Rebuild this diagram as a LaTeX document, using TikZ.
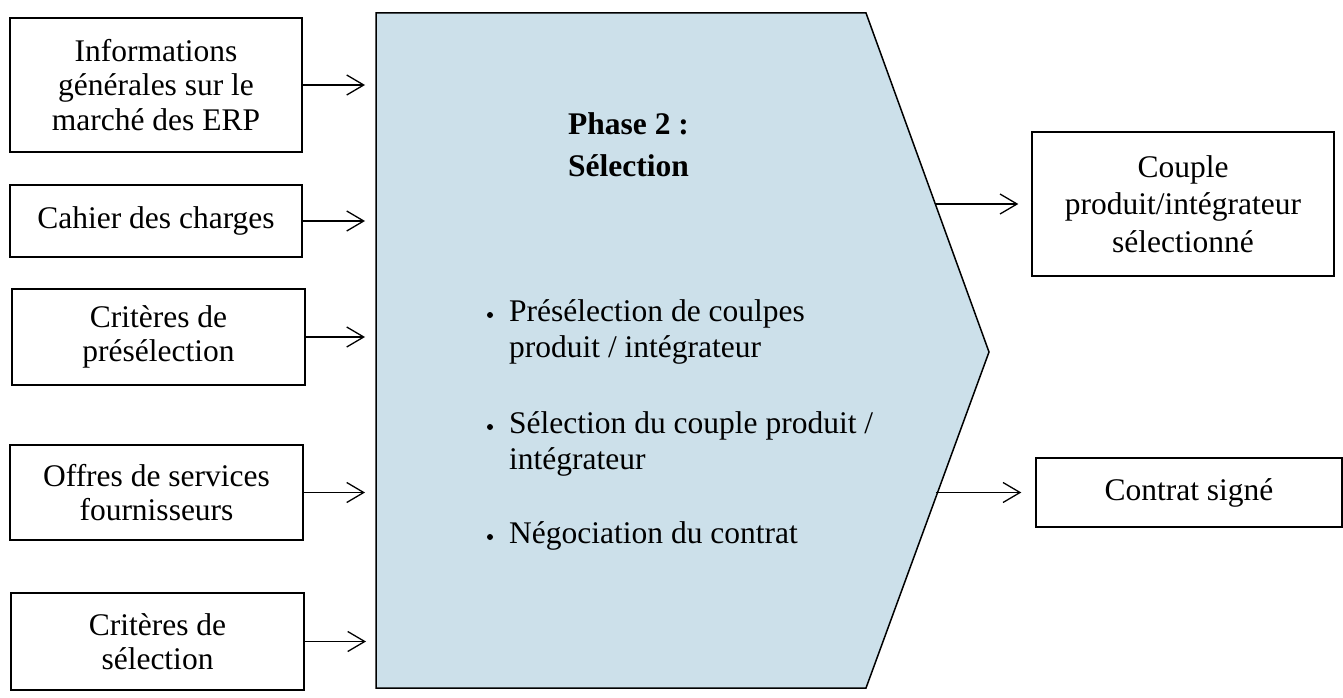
\documentclass[tikz,border=0pt]{standalone}
\usepackage{fontspec}
\setmainfont{Liberation Serif}
\usetikzlibrary{arrows.meta,calc}
\definecolor{phasefill}{RGB}{204,224,234}

\tikzset{
  txt/.style={font=\fontsize{31.5}{34.5}\selectfont},
  inbox/.style={txt, draw, line width=1.4pt, align=center, inner sep=0pt},
  arr/.style={line width=1.3pt, -{Straight Barb[length=17pt,width=20pt,line width=1.3pt]}},
  phase/.style={fill=phasefill, draw, line width=1.5pt, line join=miter},
  item/.style={font=\fontsize{31.5}{36}\selectfont, anchor=base west, inner sep=0pt},
}

\begin{document}
\begin{tikzpicture}[x=1pt,y=-1pt]
  \useasboundingbox (0,0) rectangle (1343,698);

  % phase block (arrow-shaped pentagon)
  \coordinate (p1) at (376,13);
  \coordinate (p2) at (866,13);
  \coordinate (p3) at (989,352);
  \coordinate (p4) at (866,688);
  \coordinate (p5) at (376,688);
  \draw[phase] (p1) -- (p2) -- (p3) -- (p4) -- (p5) -- cycle;

  % phase title
  \node[anchor=base west, inner sep=0pt,
        font=\fontsize{31.5}{42}\selectfont\bfseries] (title) at (568,135)
        {\parbox[t]{250pt}{Phase 2 :\\Sélection}};

  % activities
  \node[item] (b1) at (509,321) {\parbox[t]{420pt}{\raggedright Présélection de coulpes\\produit / intégrateur}};
  \node[item] (b2) at (509,433) {\parbox[t]{420pt}{\raggedright Sélection du couple produit /\\intégrateur}};
  \node[item] (b3) at (509,543) {\parbox[t]{420pt}{\raggedright Négociation du contrat}};
  \foreach \b in {b1,b2,b3}
    \fill ($(\b.base west)+(-19,-6)$) circle (3pt);

  % inputs
  \node[inbox, minimum width=292pt, minimum height=134pt] (i1) at (156,85)
    {Informations\\générales sur le\\marché des ERP};
  \node[inbox, minimum width=292pt, minimum height=72pt] (i2) at (156,221)
    {Cahier des charges};
  \node[inbox, minimum width=293pt, minimum height=96pt] (i3) at (158.5,337)
    {Critères de\\présélection};
  \node[inbox, minimum width=293pt, minimum height=95pt] (i4) at (156.5,492.5)
    {Offres de services\\fournisseurs};
  \node[inbox, minimum width=293pt, minimum height=97pt] (i5) at (157.5,641.5)
    {Critères de\\sélection};

  \coordinate (e1) at (365,85);
  \coordinate (e2) at (365,221);
  \coordinate (e3) at (365,337);
  \coordinate (e4) at (365,492.5);
  \coordinate (e5) at (366,641.5);
  \foreach \k in {1,...,5}
    \draw[arr] (i\k.east) -- (e\k);

  % outputs
  \node[inbox, font=\fontsize{31.5}{37.5}\selectfont,
        minimum width=302pt, minimum height=144pt] (o1) at (1183,204)
    {Couple\\produit/intégrateur\\sélectionné};
  \node[inbox, minimum width=306pt, minimum height=69pt] (o2) at (1189,492.5)
    {Contrat signé};

  \coordinate (s1) at (935,204);
  \coordinate (s2) at (935.5,492.5);
  \draw[arr, shorten >=13pt] (s1) -- (o1.west);
  \draw[arr, shorten >=14pt] (s2) -- (o2.west);
\end{tikzpicture}
\end{document}
